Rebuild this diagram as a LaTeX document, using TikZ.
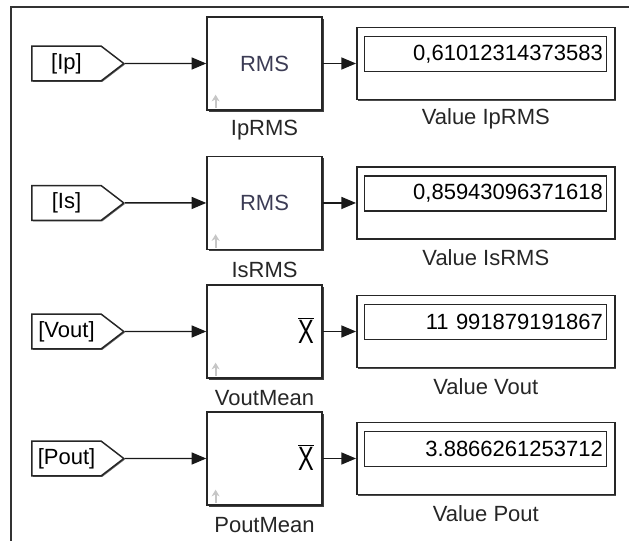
\documentclass[tikz,border=0pt]{standalone}
\usepackage{fontspec}
\setmainfont{Liberation Sans}
\usetikzlibrary{shapes,shadows,arrows.meta,positioning}
\definecolor{rmsgray}{RGB}{60,60,85}
\newcommand{\meanX}{{\fontsize{22}{24}\selectfont$\overline{\hbox{\scalebox{0.8}[1.15]{X}}}$}}

\begin{document}
\begin{tikzpicture}[x=0.75pt,y=-0.75pt,>={Triangle[length=11pt,width=9pt]},
    font=\fontsize{16.5}{19}\selectfont,
    blk/.style={draw=black!85,line width=1.1pt,fill=white,minimum width=86.25pt,minimum height=69.75pt,inner sep=0pt,
        drop shadow={shadow xshift=1.3pt,shadow yshift=-1.3pt,opacity=1,fill=black!75}},
    tag/.style={signal,signal to=east,signal pointer angle=75,draw=black!85,line width=1.1pt,fill=white,
        minimum height=26pt,minimum width=69pt,inner sep=1pt,
        drop shadow={shadow xshift=0.8pt,shadow yshift=-0.8pt,opacity=1,fill=black!60}},
    disp/.style={draw=black!85,line width=1.2pt,fill=white,minimum width=193.5pt,minimum height=54pt,inner sep=0pt,
        drop shadow={shadow xshift=1pt,shadow yshift=-1pt,opacity=1,fill=black!70}},
    num/.style={draw=black!85,line width=0.9pt,minimum width=181.5pt,minimum height=26.25pt,text width=175.5pt,align=right,inner sep=3pt},
    lbl/.style={text=black!85,inner sep=0pt},
    wire/.style={->,line width=1.1pt,black!90},
    icon/.style={gray!45,line width=1.6pt,-{Stealth[length=5pt,width=6pt]}}]
    \useasboundingbox (0,0) rectangle (629,541);
    \draw[line width=0.9pt,black!80] (11,541) |- (629,7);
    %%%%%%%%%
    \node[blk,text=rmsgray] (bIp) at (264.5,63.5) {RMS};
        \node[tag] (tIp) [left of=bIp, node distance=148.5pt] {[Ip]};
        \node[disp] (dIp) [right of=bIp, node distance=166pt] {};
        \node[num] (nIp) [above of=dIp, node distance=7.1pt] {0,61012314373583};
        \node[lbl] (lbIp) [below of=bIp, node distance=50.25pt] {IpRMS};
        \node[lbl] (ldIp) [below of=dIp, node distance=41.25pt] {Value IpRMS};
    %%%%%%%%%
    \node[blk,text=rmsgray] (bIs) [below of=bIp, node distance=104.6pt] {RMS};
        \node[tag] (tIs) [left of=bIs, node distance=148.5pt] {[Is]};
        \node[disp] (dIs) [right of=bIs, node distance=166pt] {};
        \node[num] (nIs) [above of=dIs, node distance=7.1pt] {0,85943096371618};
        \node[lbl] (lbIs) [below of=bIs, node distance=50.25pt] {IsRMS};
        \node[lbl] (ldIs) [below of=dIs, node distance=41.25pt] {Value IsRMS};
    %%%%%%%%%
    \node[blk] (bVout) [below of=bIs, node distance=96.4pt] {};
        \node (xVout) [anchor=east,inner sep=0pt] at ([xshift=-6.5pt,yshift=1pt]bVout.east) {\meanX};
        \node[tag] (tVout) [left of=bVout, node distance=148.5pt] {[Vout]};
        \node[disp] (dVout) [right of=bVout, node distance=166pt] {};
        \node[num] (nVout) [above of=dVout, node distance=7.1pt] {11 991879191867};
        \node[lbl] (lbVout) [below of=bVout, node distance=50.25pt] {VoutMean};
        \node[lbl] (ldVout) [below of=dVout, node distance=41.25pt] {Value Vout};
    %%%%%%%%%
    \node[blk] (bPout) [below of=bVout, node distance=95.25pt] {};
        \node (xPout) [anchor=east,inner sep=0pt] at ([xshift=-6.5pt,yshift=1pt]bPout.east) {\meanX};
        \node[tag] (tPout) [left of=bPout, node distance=148.5pt] {[Pout]};
        \node[disp] (dPout) [right of=bPout, node distance=166pt] {};
        \node[num] (nPout) [above of=dPout, node distance=7.1pt] {3.8866261253712};
        \node[lbl] (lbPout) [below of=bPout, node distance=50.25pt] {PoutMean};
        \node[lbl] (ldPout) [below of=dPout, node distance=41.25pt] {Value Pout};
    %%%%%%%%%
    \foreach \b in {bIp,bIs,bVout,bPout}
        \draw[icon] ([shift={(7pt,2pt)}]\b.south west) -- ++(0,10pt);
            \draw[wire] (tIp) edge (bIp);
            \draw[wire] (bIp) edge (dIp);
            \draw[wire] (tIs) edge (bIs);
            \draw[wire] (bIs) edge (dIs);
            \draw[wire] (tVout) edge (bVout);
            \draw[wire] (bVout) edge (dVout);
            \draw[wire] (tPout) edge (bPout);
            \draw[wire] (bPout) edge (dPout);
\end{tikzpicture}
\end{document}
